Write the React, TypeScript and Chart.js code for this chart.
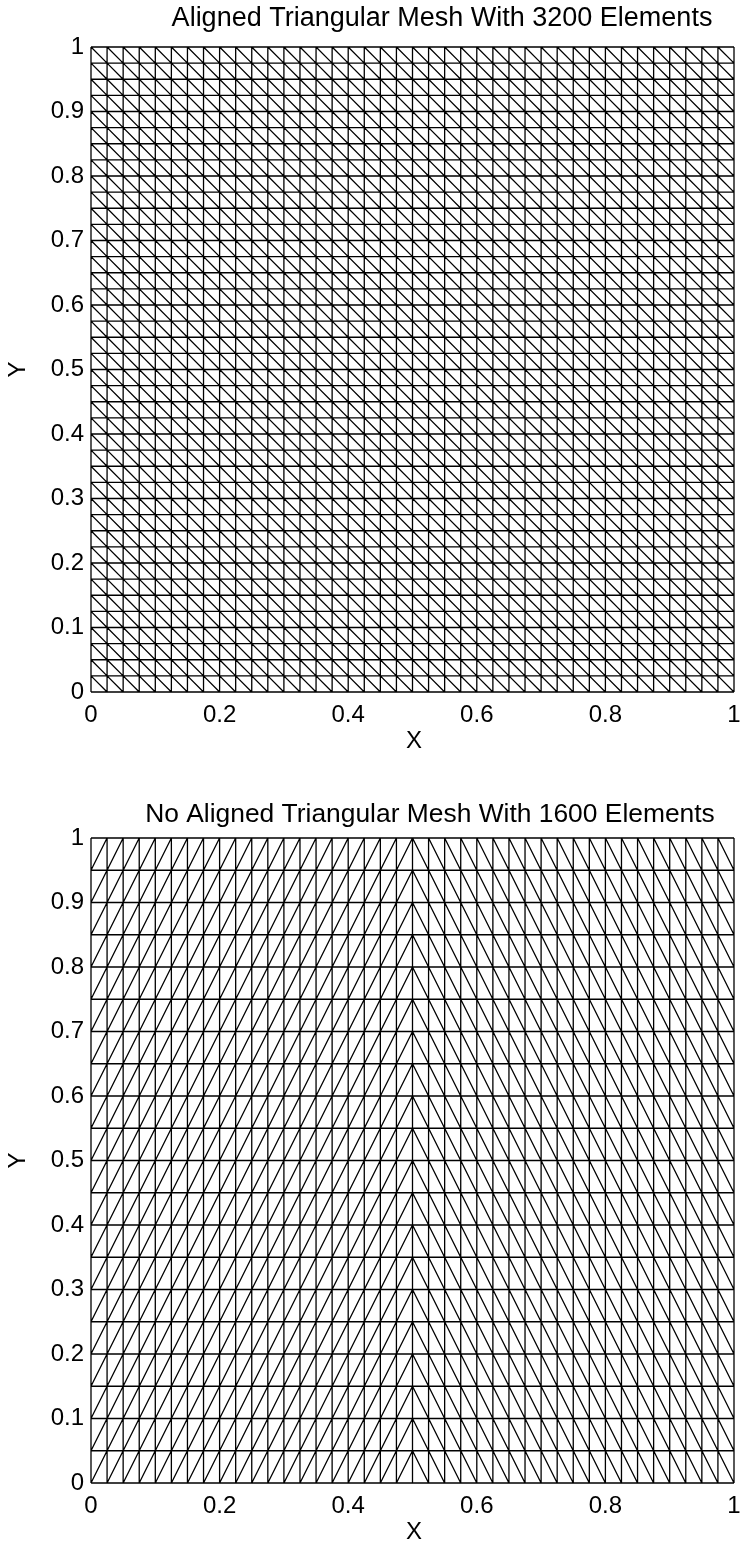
import { useEffect, useRef } from "react";
import { Chart, registerables } from "chart.js";

Chart.register(...registerables);

// Mesh nodes (40 divisions in x)
const xNodes = [
  0, 0.025, 0.05, 0.075, 0.1, 0.125, 0.15, 0.175, 0.2, 0.225,
  0.25, 0.275, 0.3, 0.325, 0.35, 0.375, 0.4, 0.425, 0.45, 0.475,
  0.5, 0.525, 0.55, 0.575, 0.6, 0.625, 0.65, 0.675, 0.7, 0.725,
  0.75, 0.775, 0.8, 0.825, 0.85, 0.875, 0.9, 0.925, 0.95, 0.975, 1,
];
// Aligned mesh: 40 divisions in y
const yNodesAligned = [
  0, 0.025, 0.05, 0.075, 0.1, 0.125, 0.15, 0.175, 0.2, 0.225,
  0.25, 0.275, 0.3, 0.325, 0.35, 0.375, 0.4, 0.425, 0.45, 0.475,
  0.5, 0.525, 0.55, 0.575, 0.6, 0.625, 0.65, 0.675, 0.7, 0.725,
  0.75, 0.775, 0.8, 0.825, 0.85, 0.875, 0.9, 0.925, 0.95, 0.975, 1,
];
// Non-aligned mesh: 20 divisions in y
const yNodesNonAligned = [
  0, 0.05, 0.1, 0.15, 0.2, 0.25, 0.3, 0.35, 0.4, 0.45,
  0.5, 0.55, 0.6, 0.65, 0.7, 0.75, 0.8, 0.85, 0.9, 0.95, 1,
];

const xTickValues = [0, 0.2, 0.4, 0.6, 0.8, 1];
const xTickLabels = ["0", "0.2", "0.4", "0.6", "0.8", "1"];
const yTickValues = [0, 0.1, 0.2, 0.3, 0.4, 0.5, 0.6, 0.7, 0.8, 0.9, 1];
const yTickLabels = ["0", "0.1", "0.2", "0.3", "0.4", "0.5", "0.6", "0.7", "0.8", "0.9", "1"];

const titleAligned = "Aligned Triangular Mesh With 3200 Elements";
const titleNonAligned = "No Aligned Triangular Mesh With 1600 Elements";
const xAxisLabel = "X";
const yAxisLabel = "Y";

const FONT = '"Liberation Sans", Arial, Helvetica, sans-serif';

type Pt = { x: number; y: number };
type DiagRule = (i: number, nCols: number) => "down" | "up";

function buildMesh(xs: number[], ys: number[], rule: DiagRule): Pt[] {
  const pts: Pt[] = [];
  const gap = { x: NaN, y: NaN };
  const nx = xs.length - 1;
  const ny = ys.length - 1;
  for (const y of ys) {
    pts.push({ x: xs[0], y }, { x: xs[nx], y }, gap);
  }
  for (const x of xs) {
    pts.push({ x, y: ys[0] }, { x, y: ys[ny] }, gap);
  }
  for (let i = 0; i < nx; i++) {
    for (let j = 0; j < ny; j++) {
      if (rule(i, nx) === "down") {
        pts.push({ x: xs[i], y: ys[j + 1] }, { x: xs[i + 1], y: ys[j] }, gap);
      } else {
        pts.push({ x: xs[i], y: ys[j] }, { x: xs[i + 1], y: ys[j + 1] }, gap);
      }
    }
  }
  return pts;
}

const textPlugin = {
  id: "meshText",
  afterDraw(chart: any, _args: any, opts: any) {
    const { ctx, chartArea } = chart;
    ctx.save();
    ctx.fillStyle = "#000";
    ctx.textAlign = "center";
    ctx.textBaseline = "middle";
    ctx.font = `${opts.titleSize}px ${FONT}`;
    ctx.fillText(opts.title, opts.titleX, opts.titleY);
    ctx.font = `${opts.labelSize}px ${FONT}`;
    ctx.fillText(xAxisLabel, opts.xLabelX, opts.xLabelY);
    ctx.translate(opts.yLabelX, (chartArea.top + chartArea.bottom) / 2);
    ctx.rotate(-Math.PI / 2);
    ctx.fillText(yAxisLabel, 0, 0);
    ctx.restore();
  },
};

function MeshChart(props: {
  width: number;
  height: number;
  title: string;
  titleX: number;
  titleY: number;
  titleSize: number;
  ys: number[];
  rule: DiagRule;
}) {
  const ref = useRef<HTMLCanvasElement | null>(null);
  useEffect(() => {
    if (!ref.current) return;
    const plotBottom = 692;
    const chart = new Chart(ref.current, {
      type: "scatter",
      data: {
        datasets: [
          {
            data: buildMesh(xNodes, props.ys, props.rule),
            showLine: true,
            borderColor: "#000",
            borderWidth: 1.3,
            pointRadius: 0,
            pointHoverRadius: 0,
            spanGaps: false,
            clip: false as any,
          } as any,
        ],
      },
      options: {
        animation: false,
        responsive: false,
        events: [],
        layout: { padding: { top: 47, right: 7, left: 0, bottom: 0 } },
        plugins: {
          legend: { display: false },
          tooltip: { enabled: false },
          title: { display: false },
          meshText: {
            title: props.title,
            titleX: props.titleX,
            titleY: props.titleY,
            titleSize: props.titleSize,
            labelSize: 24,
            xLabelX: 414,
            xLabelY: 741,
            yLabelX: 18,
          },
        } as any,
        scales: {
          x: {
            type: "linear",
            min: 0,
            max: 1,
            grid: { display: false, drawTicks: false },
            border: { display: false },
            afterBuildTicks: (s: any) => {
              s.ticks = xTickValues.map((v) => ({ value: v }));
            },
            afterFit: (s: any) => {
              s.height = props.height - plotBottom;
              s.paddingLeft = 0;
              s.paddingRight = 0;
            },
            ticks: {
              padding: 9,
              maxRotation: 0,
              autoSkip: false,
              color: "#000",
              font: { family: FONT, size: 24 },
              callback: (_v: any, i: number) => xTickLabels[i],
            },
          },
          y: {
            type: "linear",
            min: 0,
            max: 1,
            grid: { display: false, drawTicks: false },
            border: { display: false },
            afterBuildTicks: (s: any) => {
              s.ticks = yTickValues.map((v) => ({ value: v }));
            },
            afterFit: (s: any) => {
              s.width = 91;
              s.paddingTop = 0;
              s.paddingBottom = 0;
            },
            ticks: {
              padding: 7,
              autoSkip: false,
              color: "#000",
              font: { family: FONT, size: 24 },
              callback: (_v: any, i: number) => yTickLabels[i],
            },
          },
        },
      },
      plugins: [textPlugin as any],
    });
    return () => chart.destroy();
  }, []);
  return (
    <canvas
      ref={ref}
      width={props.width}
      height={props.height}
      style={{ display: "block", width: props.width, height: props.height }}
    />
  );
}

export default function App() {
  useEffect(() => {
    document.body.style.margin = "0";
    document.body.style.background = "#fff";
  }, []);
  return (
    <div style={{ width: 741, height: 1546, background: "#fff" }}>
      <MeshChart
        width={741}
        height={791}
        title={titleAligned}
        titleX={442}
        titleY={19}
        titleSize={27}
        ys={yNodesAligned}
        rule={() => "down"}
      />
      <MeshChart
        width={741}
        height={755}
        title={titleNonAligned}
        titleX={430}
        titleY={24}
        titleSize={26.4}
        ys={yNodesNonAligned}
        rule={(i, n) => (i < n / 2 ? "up" : "down")}
      />
    </div>
  );
}
